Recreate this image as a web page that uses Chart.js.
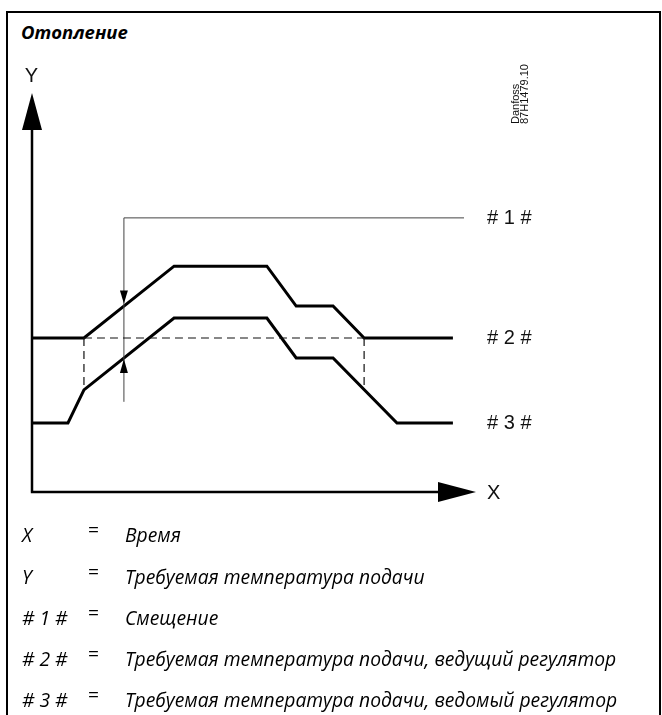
<!DOCTYPE html>
<html><head><meta charset="utf-8">
<script src="https://cdn.jsdelivr.net/npm/chart.js@4.4.1/dist/chart.umd.min.js"></script>
<style>
html,body{margin:0;padding:0;background:#fff;}
body{width:662px;height:715px;position:relative;overflow:hidden;font-family:"Open Sans",sans-serif;color:#000;}
#frame{position:absolute;left:6px;top:11px;width:651px;height:760px;border:2px solid #000;border-bottom:none;}
#title{position:absolute;left:21px;top:22.6px;font:italic 700 18.5px/18.5px "Open Sans";white-space:nowrap;}
#cv{position:absolute;left:0;top:0;}
.row{position:absolute;left:0;width:662px;height:24px;font:italic 19.3px/24px "Open Sans";}
.k{position:absolute;left:22px;white-space:nowrap;}
.eq{position:absolute;left:88px;font-style:normal;top:-5px;}
.v{position:absolute;left:125px;white-space:nowrap;}
</style>
</head><body>
<div id="frame"></div>
<div id="title">Отопление</div>
<canvas id="cv" width="662" height="715"></canvas>
<div id="legend"></div>
<script>
// ---- data (time units 0..100 along X, temperature units 0..100 along Y) ----
const timeMaster   = [0, 11.7, 32.0, 52.9, 59.5, 67.8, 74.8, 94.8];
const tempMaster   = [38.6, 38.6, 56.6, 56.6, 46.6, 46.6, 38.6, 38.6];
const timeSlave    = [0, 8.1, 11.7, 32.0, 52.9, 59.5, 67.8, 82.2, 94.8];
const tempSlave    = [17.3, 17.3, 25.6, 43.6, 43.6, 33.6, 33.6, 17.3, 17.3];
const refTimes     = [11.7, 74.8];        // where the master leaves / returns to its base level
const refLevel     = 38.6;                 // dashed reference level
const refLowerEnds = [25.6, 25.6];         // slave value under each reference time
const offsetTime   = 20.7;                 // time of the offset marker
const offsetTop    = 68.7;                 // leader line level
const offsetBottom = 22.6;
const offsetLeaderEnd = 97.3;
const offsetTips   = [46.6, 33.6];         // master / slave values at the marker
const labelTime    = 102.5;
const seriesLabels = ['# 1 #', '# 2 #', '# 3 #'];
const seriesLabelLevels = [68.7, 38.6, 17.3];
const legendKeys   = ['X', 'Y', '# 1 #', '# 2 #', '# 3 #'];
const legendTexts  = ['Время', 'Требуемая температура подачи', 'Смещение',
  'Требуемая температура подачи, ведущий регулятор',
  'Требуемая температура подачи, ведомый регулятор'];
const legendBaselines = [543, 585, 626, 667, 708];

// legend as real HTML text
const lg = document.getElementById('legend');
legendKeys.forEach((k, i) => {
  const r = document.createElement('div');
  r.className = 'row';
  r.style.top = (legendBaselines[i] - 19.6) + 'px';
  r.innerHTML = '<span class="k"></span><span class="eq">=</span><span class="v"></span>';
  r.querySelector('.k').textContent = k;
  r.querySelector('.v').textContent = legendTexts[i];
  lg.appendChild(r);
});

const pts = (xs, ys) => xs.map((x, i) => ({x, y: ys[i]}));
const lineDs = (data, extra) => Object.assign({
  data, borderColor: '#000', borderWidth: 3, pointRadius: 0, tension: 0,
  fill: false, clip: false, borderJoinStyle: 'miter', borderCapStyle: 'butt'
}, extra || {});

const dashStyle = {borderColor: '#111', borderWidth: 1.2, borderDash: [8, 5]};
const datasets = [
  lineDs(pts([refTimes[0], refTimes[1]], [refLevel, refLevel]), dashStyle),
  lineDs(pts([refTimes[0], refTimes[0]], [refLevel, refLowerEnds[0]]), dashStyle),
  lineDs(pts([refTimes[1], refTimes[1]], [refLevel, refLowerEnds[1]]), dashStyle),
  lineDs(pts([offsetTime, offsetTime, offsetLeaderEnd], [offsetBottom, offsetTop, offsetTop]), {borderColor: '#444', borderWidth: 1, borderJoinStyle: 'miter'}),
  lineDs(pts(timeMaster, tempMaster)),
  lineDs(pts(timeSlave, tempSlave))
];

const deco = {
  id: 'deco',
  afterDatasetsDraw(chart) {
    const {ctx, chartArea: ca, scales: {x, y}} = chart;
    const x0 = x.getPixelForValue(0), y0 = y.getPixelForValue(0);
    ctx.save();
    ctx.fillStyle = '#000'; ctx.strokeStyle = '#000';
    // axes
    ctx.lineWidth = 2.5;
    ctx.beginPath();
    ctx.moveTo(x0, y0); ctx.lineTo(x0, ca.top + 30);
    ctx.moveTo(x0 - 1.2, y0); ctx.lineTo(ca.right - 30, y0);
    ctx.stroke();
    ctx.beginPath();
    ctx.moveTo(x0, ca.top); ctx.lineTo(x0 + 10, ca.top + 37); ctx.lineTo(x0 - 10, ca.top + 37); ctx.closePath();
    ctx.fill();
    ctx.beginPath();
    ctx.moveTo(ca.right, y0); ctx.lineTo(ca.right - 38, y0 - 10); ctx.lineTo(ca.right - 38, y0 + 10); ctx.closePath();
    ctx.fill();
    // offset arrowheads
    const ox = x.getPixelForValue(offsetTime);
    const t1 = y.getPixelForValue(offsetTips[0]) - 2.5;
    const t2 = y.getPixelForValue(offsetTips[1]) + 1;
    ctx.beginPath();
    ctx.moveTo(ox, t1); ctx.lineTo(ox - 4, t1 - 13); ctx.lineTo(ox + 4, t1 - 13); ctx.closePath(); ctx.fill();
    ctx.beginPath();
    ctx.moveTo(ox, t2); ctx.lineTo(ox - 4, t2 + 14); ctx.lineTo(ox + 4, t2 + 14); ctx.closePath(); ctx.fill();
    // axis letters
    ctx.fillStyle = '#111';
    ctx.font = '20px "Liberation Sans", Arial, sans-serif';
    ctx.textBaseline = 'alphabetic';
    ctx.textAlign = 'center';
    ctx.fillText('Y', x0 - 0.5, ca.top - 11);
    ctx.textAlign = 'left';
    ctx.fillText('X', ca.right + 11, y0 + 7);
    // series labels
    const lx = x.getPixelForValue(labelTime);
    seriesLabels.forEach((s, i) => ctx.fillText(s, lx, y.getPixelForValue(seriesLabelLevels[i]) + 6.5));
    // drawing number
    ctx.font = '11px "Liberation Sans", Arial, sans-serif';
    ctx.translate(516, 124); ctx.rotate(-Math.PI / 2);
    ctx.textBaseline = 'middle';
    ctx.fillText('Danfoss', 0, 0);
    ctx.fillText('87H1479.10', 0, 9);
    ctx.restore();
  }
};

new Chart(document.getElementById('cv'), {
  type: 'line',
  data: {datasets},
  options: {
    responsive: false, animation: false, devicePixelRatio: 1,
    layout: {padding: {left: 32, right: 186, top: 93, bottom: 223}},
    plugins: {legend: {display: false}, tooltip: {enabled: false}, title: {display: false}},
    scales: {
      x: {type: 'linear', min: 0, max: 100, display: false},
      y: {type: 'linear', min: 0, max: 100, display: false}
    },
    events: []
  },
  plugins: [deco]
});
</script>
</body></html>
